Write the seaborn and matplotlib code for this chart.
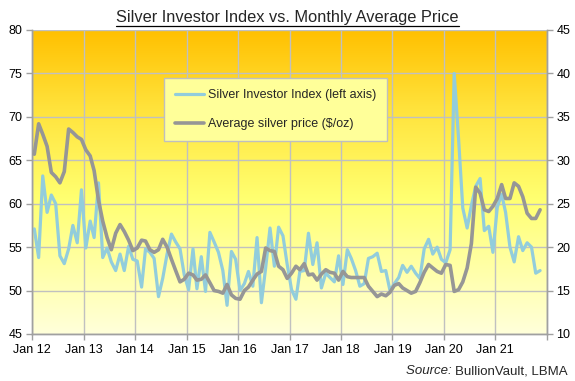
import matplotlib
matplotlib.use('Agg')
import matplotlib.pyplot as plt
from matplotlib.colors import LinearSegmentedColormap
from matplotlib.lines import Line2D
import numpy as np
import pandas as pd
import seaborn as sns

# monthly data, Jan 2012 - Nov 2021 (plotted mid-month)
months = pd.date_range('2012-01-01', '2021-11-01', freq='MS') + pd.Timedelta(days=14)

# Silver Investor Index (left axis)
investor_index = [
    57.1, 53.8, 63.2, 59.0, 61.0, 60.0, 54.0, 53.1, 54.8, 57.5, 55.5, 61.6,
    54.9, 58.0, 56.1, 62.4, 53.8, 54.9, 53.3, 52.3, 54.2, 52.3, 55.1, 53.6,
    53.4, 50.4, 54.8, 54.4, 53.7, 49.3, 51.4, 54.2, 56.5, 55.6, 54.8, 51.8,
    50.1, 54.8, 50.2, 53.9, 49.9, 56.7, 55.6, 54.4, 52.3, 48.3, 54.5, 53.6,
    50.0, 50.8, 52.2, 50.5, 56.1, 48.6, 52.6, 57.2, 52.8, 57.3, 56.3, 53.0,
    50.1, 49.0, 52.2, 52.3, 56.6, 53.0, 55.5, 50.3, 52.0, 51.5, 51.0, 54.0,
    50.7, 54.7, 53.7, 52.3, 50.5, 50.8, 53.7, 53.9, 54.3, 52.2, 52.3, 50.0,
    50.8, 51.5, 52.9, 52.1, 52.8, 52.0, 51.4, 54.8, 55.9, 54.2, 55.0, 53.6,
    53.2, 54.7, 75.0, 67.5, 59.5, 57.2, 59.8, 62.0, 62.9, 56.9, 57.4, 54.4,
    59.6, 61.1, 59.0, 55.0, 53.3, 56.2, 54.6, 55.5, 55.0, 52.0, 52.3,
]

# average silver price, $/oz (right axis)
silver_price = [
    30.7, 34.2, 33.0, 31.6, 28.6, 28.1, 27.4, 28.7, 33.6, 33.2, 32.7, 32.4,
    31.2, 30.5, 28.8, 25.4, 23.0, 21.1, 19.7, 21.6, 22.6, 21.8, 20.8, 19.6,
    19.9, 20.8, 20.7, 19.7, 19.4, 19.7, 20.9, 20.0, 18.6, 17.3, 16.0, 16.3,
    17.0, 16.8, 16.2, 16.3, 16.8, 15.9, 15.0, 14.9, 14.7, 15.7, 14.5, 14.1,
    14.0, 15.0, 15.4, 16.2, 16.9, 17.2, 19.9, 19.6, 19.5, 17.8, 17.4, 16.4,
    17.0, 17.8, 17.4, 18.1, 16.8, 16.9, 16.2, 16.9, 17.4, 17.1, 17.0, 16.2,
    17.2, 16.6, 16.5, 16.5, 16.5, 16.5, 15.5, 14.9, 14.3, 14.6, 14.4, 14.8,
    15.6, 15.8, 15.3, 15.0, 14.7, 14.9, 15.9, 17.1, 18.0, 17.6, 17.2, 17.0,
    18.0, 17.9, 14.9, 15.1, 16.0, 17.6, 20.4, 26.9, 26.2, 24.3, 24.1, 24.7,
    25.6, 27.2, 25.6, 25.6, 27.4, 27.0, 25.8, 23.9, 23.3, 23.3, 24.3,
]

year_ticks = pd.date_range('2012-01-01', '2022-01-01', freq='YS')
year_labels = ['Jan 12', 'Jan 13', 'Jan 14', 'Jan 15', 'Jan 16', 'Jan 17',
               'Jan 18', 'Jan 19', 'Jan 20', 'Jan 21', '']
left_ticks = [45, 50, 55, 60, 65, 70, 75, 80]
right_ticks = [10, 15, 20, 25, 30, 35, 40, 45]

BLUE = '#92CDDC'
GREY = '#969696'
AXIS = '#A0A0A0'

sns.set_style('ticks')
plt.rcParams['font.family'] = ['Liberation Sans', 'DejaVu Sans']

fig = plt.figure(figsize=(5.75, 3.81), dpi=100)
ax = fig.add_axes([0.0562, 0.1234, 0.8946, 0.7979])
ax2 = ax.twinx()

# gold-to-cream gradient behind the plot
grad = LinearSegmentedColormap.from_list(
    'bg', [(0.0, '#FFFFDA'), (0.45, '#FFFF70'), (0.75, '#FFE23A'), (1.0, '#FFC000')])
ax.imshow(np.linspace(0, 1, 256).reshape(-1, 1), cmap=grad, origin='lower',
          extent=[0, 1, 0, 1], transform=ax.transAxes, aspect='auto', zorder=0)

sns.lineplot(x=months, y=investor_index, ax=ax, color=BLUE, linewidth=2.3, zorder=3)
sns.lineplot(x=months, y=silver_price, ax=ax2, color=GREY, linewidth=2.6, zorder=3)

ax.set_xlim(year_ticks[0], year_ticks[-1])
ax.set_ylim(45, 80)
ax2.set_ylim(10, 45)
ax.set_xticks(year_ticks)
ax.set_xticklabels(year_labels)
ax.set_yticks(left_ticks)
ax2.set_yticks(right_ticks)
ax.set_xlabel('')
ax.set_ylabel('')
ax2.set_ylabel('')

ax.grid(True, color='#C0C0C0', linewidth=1.0)
for line in ax.get_xgridlines() + ax.get_ygridlines():
    line.set_zorder(1)

for a in (ax, ax2):
    for s in a.spines.values():
        s.set_color(AXIS)
        s.set_linewidth(1.0)
    a.tick_params(colors=AXIS, labelcolor='black', labelsize=9, length=4, width=1, pad=3)
ax.spines['top'].set_visible(False)
ax2.spines['top'].set_visible(False)
ax2.patch.set_visible(False)

handles = [Line2D([], [], color=BLUE, linewidth=2.3),
           Line2D([], [], color=GREY, linewidth=2.6)]
leg = ax2.legend(handles, ['Silver Investor Index (left axis)', 'Average silver price ($/oz)'],
                 loc='upper left', bbox_to_anchor=(0.256, 0.842), fontsize=9,
                 frameon=True, fancybox=False, facecolor='#FFFF99', edgecolor='#BFBFBF',
                 framealpha=1, handlelength=2.3, handletextpad=0.3, labelspacing=1.35,
                 borderpad=0.9, borderaxespad=0)
leg.get_frame().set_linewidth(1.0)
leg.set_zorder(5)

title = fig.text(0.5, 0.955, 'Silver Investor Index vs. Monthly Average Price',
                 ha='center', va='center', fontsize=11.8)
fig.text(0.988, 0.025, 'BullionVault, LBMA', ha='right', va='center', fontsize=9.5)
src = fig.text(0.988, 0.025, 'Source: ', ha='right', va='center', fontsize=9.5, style='italic')

# underline the title, place the italic "Source:" before the plain part
fig.canvas.draw()
r = fig.canvas.get_renderer()
tb = title.get_window_extent(r).transformed(fig.transFigure.inverted())
fig.add_artist(Line2D([tb.x0, tb.x1], [tb.y0 - 0.003, tb.y0 - 0.003],
                      color='black', linewidth=0.9, transform=fig.transFigure))
plain = fig.texts[1].get_window_extent(r).transformed(fig.transFigure.inverted())
src.set_position((plain.x0, 0.025))

fig.savefig('out.png', dpi=100)
